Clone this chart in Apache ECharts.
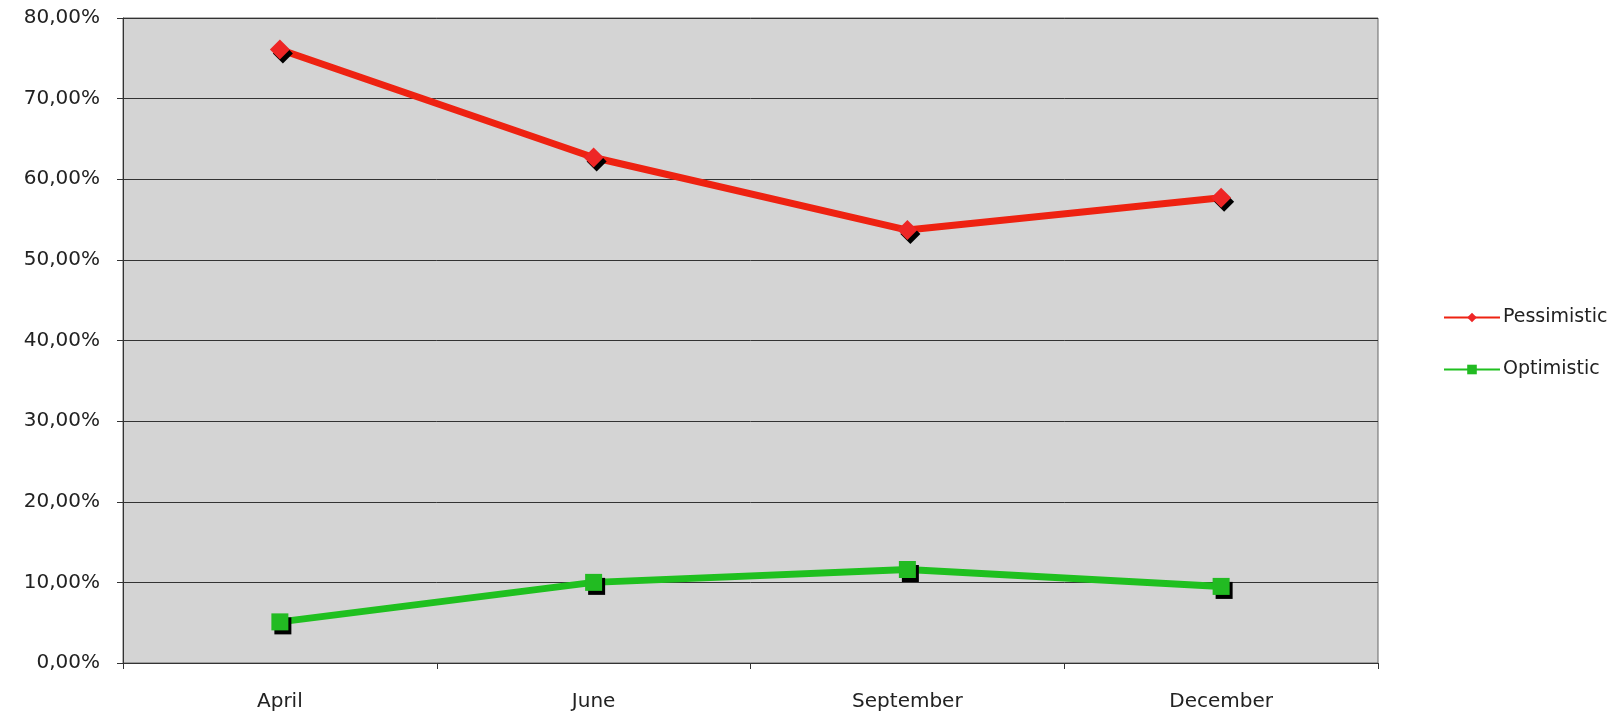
<!DOCTYPE html>
<html>
<head>
<meta charset="utf-8">
<script src="https://cdn.jsdelivr.net/npm/echarts@6/dist/echarts.min.js"></script>
<style>
  html, body { margin: 0; padding: 0; background: #fff; }
  #chart { width: 1614px; height: 713px; }
</style>
</head>
<body>
<div id="chart"></div>
<script>
// Survey outlook by month (percent of respondents)
const months = ['April', 'June', 'September', 'December'];
const pessimistic = [76.1, 62.7, 53.7, 57.7];
const optimistic = [5.1, 10.0, 11.6, 9.5];
const yTicks = { min: 0, max: 80, interval: 10 };

const fmtPct = v => v.toFixed(2).replace('.', ',') + '%';
const font = 'DejaVu Sans, Verdana, sans-serif';

const markerShadow = {
  shadowColor: '#000',
  shadowBlur: 0,
  shadowOffsetX: 3,
  shadowOffsetY: 4
};

const chart = echarts.init(document.getElementById('chart'), null, { renderer: 'canvas' });
chart.setOption({
  animation: false,
  backgroundColor: '#fff',
  grid: {
    left: 123, top: 18, right: 236, bottom: 50,
    show: true,
    backgroundColor: '#d4d4d4',
    borderColor: '#666',
    borderWidth: 1
  },
  legend: {
    orient: 'vertical',
    left: 1438,
    top: 303,
    itemGap: 33,
    itemWidth: 56,
    itemHeight: 12,
    textStyle: { fontFamily: font, fontSize: 19, color: '#222', padding: [0, 0, 0, -2] },
    itemStyle: { shadowColor: 'transparent', shadowOffsetX: 0, shadowOffsetY: 0 },
    lineStyle: { width: 2 },
    data: ['Pessimistic', 'Optimistic']
  },
  xAxis: {
    type: 'category',
    data: months,
    boundaryGap: true,
    axisLine: { lineStyle: { color: '#333', width: 1 } },
    axisTick: { show: true, length: 6, lineStyle: { color: '#333' } },
    axisLabel: { fontFamily: font, fontSize: 20, color: '#222', margin: 29 },
    splitLine: { show: false }
  },
  yAxis: {
    type: 'value',
    min: yTicks.min,
    max: yTicks.max,
    interval: yTicks.interval,
    axisLine: { show: true, lineStyle: { color: '#333', width: 1 } },
    axisTick: { show: true, length: 6, lineStyle: { color: '#333' } },
    axisLabel: { fontFamily: font, fontSize: 20, color: '#222', margin: 23, formatter: fmtPct },
    splitLine: { show: true, lineStyle: { color: '#333', width: 1 } }
  },
  series: [
    {
      name: 'Pessimistic',
      type: 'line',
      data: pessimistic,
      symbol: 'diamond',
      symbolSize: 20,
      lineStyle: { color: '#ee2211', width: 7 },
      itemStyle: Object.assign({ color: '#ee2626' }, markerShadow),
      z: 3
    },
    {
      name: 'Optimistic',
      type: 'line',
      data: optimistic,
      symbol: 'rect',
      symbolSize: 17,
      lineStyle: { color: '#1fc01f', width: 7 },
      itemStyle: Object.assign({ color: '#22bb22' }, markerShadow),
      z: 3
    }
  ]
});
</script>
</body>
</html>
